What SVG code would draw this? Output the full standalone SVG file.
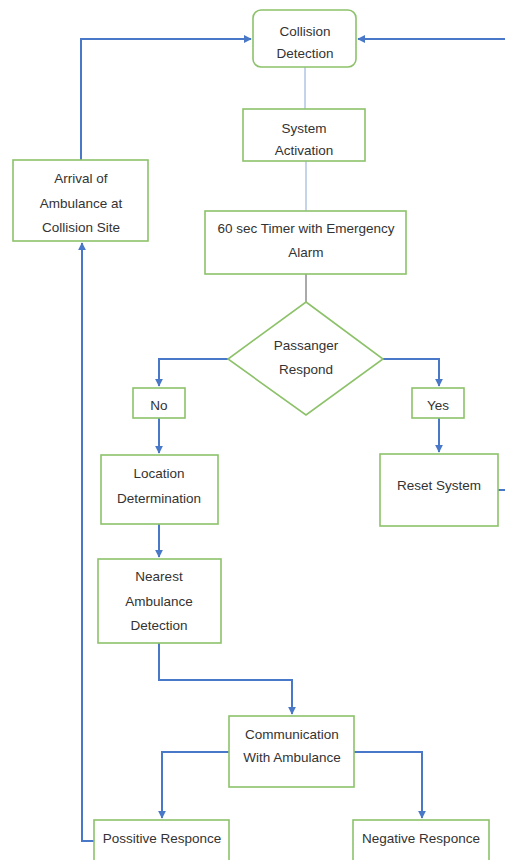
<svg xmlns="http://www.w3.org/2000/svg" width="505" height="860" viewBox="0 0 505 860">
<style>
.box{fill:#fff;stroke:#8dc26a;stroke-width:1.6}
.t{font-family:"Liberation Sans",Arial,sans-serif;font-size:13.5px;fill:#333;text-anchor:middle}
.c{fill:none;stroke:#4a78c8;stroke-width:2}
.thin{fill:none;stroke:#8aa6d6;stroke-width:1}
</style>
<defs>
<marker id="ah" viewBox="0 0 10 10" refX="9" refY="5" markerWidth="4" markerHeight="4" orient="auto" markerUnits="strokeWidth">
<path d="M0,0L10,5L0,10z" fill="#4a78c8"/>
</marker>
</defs>
<rect width="505" height="860" fill="#fff"/>
<g id="connectors">
<line class="thin" x1="305" y1="67" x2="305" y2="109"/>
<line class="thin" x1="306" y1="161" x2="306" y2="211"/>
<line x1="306" y1="274" x2="306" y2="302" stroke="#555" stroke-width="1"/>
<path class="c" d="M81,160V39H251" marker-end="url(#ah)"/>
<path class="c" d="M505,39H358" marker-end="url(#ah)"/>
<path class="c" d="M498,490H505"/>
<path class="c" d="M228,359H159V386" marker-end="url(#ah)"/>
<path class="c" d="M383,359H439V386" marker-end="url(#ah)"/>
<path class="c" d="M159,418V453" marker-end="url(#ah)"/>
<path class="c" d="M439,418V452" marker-end="url(#ah)"/>
<path class="c" d="M159,524V557" marker-end="url(#ah)"/>
<path class="c" d="M159,643V680H292V714" marker-end="url(#ah)"/>
<path class="c" d="M229,752H162V818" marker-end="url(#ah)"/>
<path class="c" d="M354,752H422V818" marker-end="url(#ah)"/>
<path class="c" d="M94,841H82V243" marker-end="url(#ah)"/>
</g>
<g id="collision-detection">
<rect class="box" x="253" y="10" width="103" height="57" rx="8"/>
<text class="t" x="305" y="36">Collision</text>
<text class="t" x="305" y="58">Detection</text>
</g>
<g id="system-activation">
<rect class="box" x="243" y="109" width="122" height="52"/>
<text class="t" x="304" y="133">System</text>
<text class="t" x="304" y="155">Activation</text>
</g>
<g id="arrival">
<rect class="box" x="13" y="160" width="135" height="81"/>
<text class="t" x="81" y="183">Arrival of</text>
<text class="t" x="81" y="208">Ambulance at</text>
<text class="t" x="81" y="232">Collision Site</text>
</g>
<g id="timer">
<rect class="box" x="205" y="211" width="201" height="63"/>
<text class="t" x="306" y="233">60 sec Timer with Emergency</text>
<text class="t" x="306" y="257">Alarm</text>
</g>
<g id="passenger-respond">
<polygon class="box" points="306,302 383,359 306,415 228,359"/>
<text class="t" x="306" y="350">Passanger</text>
<text class="t" x="306" y="374">Respond</text>
</g>
<g id="no">
<rect class="box" x="133" y="388" width="52" height="30"/>
<text class="t" x="159" y="410">No</text>
</g>
<g id="yes">
<rect class="box" x="412" y="388" width="52" height="30"/>
<text class="t" x="438" y="410">Yes</text>
</g>
<g id="location">
<rect class="box" x="101" y="455" width="117" height="69"/>
<text class="t" x="159" y="478">Location</text>
<text class="t" x="159" y="503">Determination</text>
</g>
<g id="reset">
<rect class="box" x="380" y="454" width="118" height="72"/>
<text class="t" x="439" y="490">Reset System</text>
</g>
<g id="nearest">
<rect class="box" x="98" y="559" width="123" height="84"/>
<text class="t" x="159" y="581">Nearest</text>
<text class="t" x="159" y="606">Ambulance</text>
<text class="t" x="159" y="630">Detection</text>
</g>
<g id="communication">
<rect class="box" x="229" y="716" width="125" height="71"/>
<text class="t" x="292" y="739">Communication</text>
<text class="t" x="292" y="762">With Ambulance</text>
</g>
<g id="positive">
<rect class="box" x="94" y="820" width="135" height="50"/>
<text class="t" x="162" y="843">Possitive Responce</text>
</g>
<g id="negative">
<rect class="box" x="353" y="820" width="136" height="50"/>
<text class="t" x="421" y="843">Negative Responce</text>
</g>
</svg>
